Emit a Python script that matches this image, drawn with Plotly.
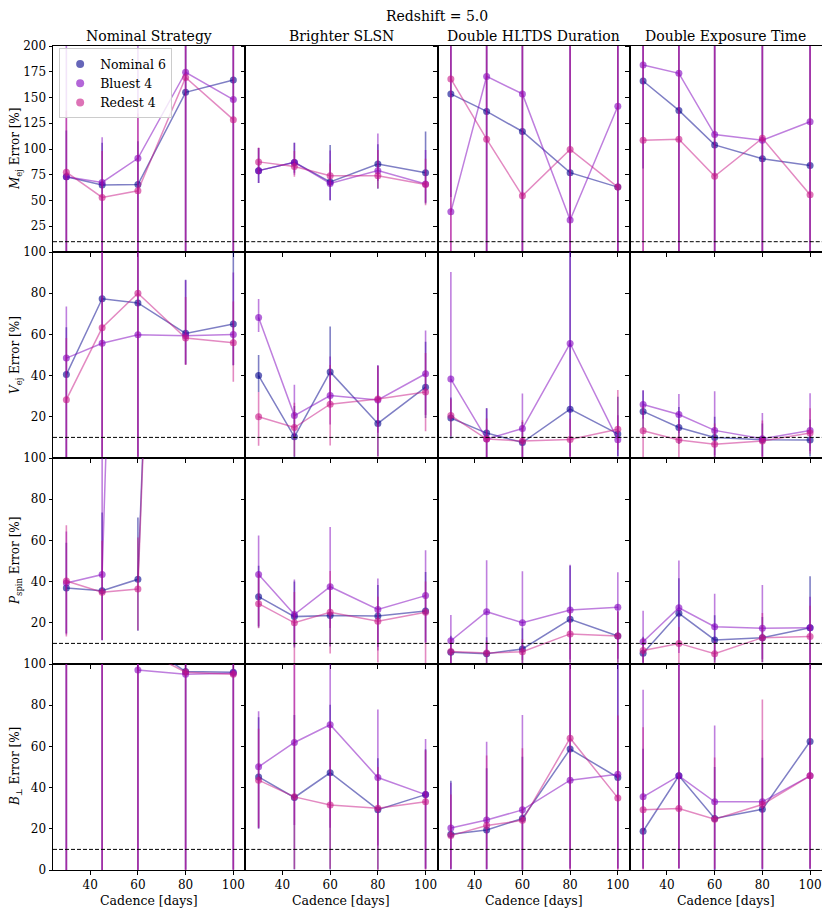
import plotly.graph_objects as go
from plotly.subplots import make_subplots

cadence = [30, 45, 60, 80, 100]
strategies = ["Nominal Strategy", "Brighter SLSN", "Double HLTDS Duration", "Double Exposure Time"]
series_names = ["Nominal 6", "Bluest 4", "Redest 4"]
y_titles = ["<i>M</i><sub>ej</sub> Error [%]", "<i>V</i><sub>ej</sub> Error [%]",
            "<i>P</i><sub>spin</sub> Error [%]", "<i>B</i><sub>⊥</sub> Error [%]"]
x_title = "Cadence [days]"
x_ticks = [40, 60, 80, 100]

# ---- M_ej (rows of lists = strategies) ----
mej_nominal = [[73, 65, 65.5, 155, 167], [79, 87, 68, 85.5, 77], [153.5, 136.5, 117, 77, 63], [166, 137.5, 104, 90.5, 84]]
mej_bluest = [[73, 67.5, 91, 174.5, 148], [79, 87, 66.5, 79, 66], [39, 170.5, 153.5, 31, 141.5], [181.5, 173.5, 114, 108.5, 126.5]]
mej_redest = [[77.5, 53, 59.5, 169.5, 128.5], [87.5, 83, 74, 74, 65.5], [168, 109.5, 54.5, 99.5, 63], [108.5, 109.5, 73.5, 110.5, 55.5]]
mej_nominal_up = [[45, 41, 42, 200, 200], [22, 19, 36, 19, 40], [200, 200, 200, 200, 200], [200, 200, 200, 200, 200]]
mej_nominal_lo = [[80, 70, 70, 160, 170], [12, 10, 18, 24, 30], [100, 136, 117, 77, 63], [85, 137, 104, 90, 84]]
mej_bluest_up = [[200, 44, 200, 200, 200], [22, 19, 32, 36, 33], [200, 200, 200, 200, 200], [200, 200, 200, 200, 200]]
mej_bluest_lo = [[73, 67.5, 91, 174.5, 148], [12, 12, 16, 10, 18], [39, 170, 153, 31, 141], [181, 173, 114, 108, 126]]
mej_redest_up = [[60, 45, 75, 200, 200], [14, 15, 12, 25, 25], [200, 200, 200, 200, 200], [200, 200, 200, 200, 200]]
mej_redest_lo = [[77, 53, 59, 169, 128], [12, 10, 10, 12, 20], [168, 109, 54, 99, 63], [108, 109, 73, 110, 55]]

# ---- V_ej ----
vej_nominal = [[40.5, 77.3, 75.3, 60.5, 65], [40, 10.3, 41.8, 16.8, 34.4], [19.4, 12.1, 7.5, 23.7, 11.7], [22.6, 14.8, 10, 8.8, 8.7]]
vej_bluest = [[48.5, 55.7, 59.8, 59.3, 60], [68.2, 20.6, 30.3, 28.2, 40.9], [38.3, 9.2, 14.3, 55.6, 8.8], [26, 21.1, 13.4, 9.3, 13.4]]
vej_redest = [[28.3, 63.2, 80, 58.2, 56], [20, 14.8, 26.1, 28.6, 32], [20.6, 9.2, 8.3, 9, 14], [13.2, 8.7, 6.7, 8.2, 12.1]]
vej_nominal_up = [[23, 100, 100, 26, 60], [10, 15, 22, 28, 22], [10, 12, 10, 80, 18], [10, 10, 10, 8, 10]]
vej_nominal_lo = [[40, 77, 75, 15, 20], [8, 10, 16, 16, 15], [10, 12, 7, 23, 11], [8, 8, 10, 8, 8]]
vej_bluest_up = [[25, 100, 100, 27, 30], [9, 15, 19, 17, 21], [52, 15, 17, 60, 12], [7, 10, 19, 12.5, 18]]
vej_bluest_lo = [[48, 55, 59, 14, 15], [7, 10, 14, 16, 20], [18, 9, 14, 55, 8], [7, 9, 12, 9, 10]]
vej_redest_up = [[30, 100, 100, 20, 20], [12, 12, 19, 16, 19], [8, 10, 10, 10, 19], [12, 10, 10, 10, 12]]
vej_redest_lo = [[28, 63, 80, 13, 19], [14, 14, 20, 28, 19], [10, 9, 8, 9, 10], [13, 8.7, 6.7, 8, 10]]

# ---- P_spin ----
pspin_nominal = [[36.9, 35.6, 41.1, 650, 700], [32.7, 23, 23.5, 23.3, 25.7], [5.7, 5, 7.3, 21.7, 13.6], [5.2, 24.6, 11.7, 12.8, 17.6]]
pspin_bluest = [[39.3, 43.4, 600, 650, 700], [43.4, 24, 37.5, 26.5, 33.2], [11.3, 25.4, 20, 26.2, 27.5], [10.8, 27.3, 18.1, 17.3, 17.6]]
pspin_redest = [[40.3, 34.8, 36.4, 650, 700], [29.3, 20, 25.1, 20.7, 25.1], [6.1, 5.3, 6, 14.6, 13.6], [6.5, 10, 5, 12.8, 13.3]]
pspin_nominal_up = [[22, 38, 30, 100, 100], [15, 17, 15, 15, 19], [8, 8, 10, 26, 12], [8, 17, 12, 10, 25]]
pspin_nominal_lo = [[22, 24, 25, 100, 100], [15, 15, 15, 15, 15], [6, 5, 7, 21, 13], [5, 15, 11, 12, 17]]
pspin_bluest_up = [[25, 60, 100, 100, 100], [19, 17, 29, 15, 22], [12.5, 25, 25, 22, 17], [15, 23, 16, 21, 15]]
pspin_bluest_lo = [[25, 32, 100, 100, 100], [25, 15, 20, 20, 23], [11, 22, 18, 24, 25], [10, 22, 16, 15, 17]]
pspin_redest_up = [[27, 25, 25, 100, 100], [15, 15, 20, 12, 15], [6, 6, 6, 12, 12], [6, 8, 6, 12, 15]]
pspin_redest_lo = [[27, 23, 20, 100, 100], [12, 20, 20, 20, 25], [6, 5, 6, 14, 13], [6, 10, 5, 12, 13]]

# ---- B_perp ----
bperp_nominal = [[700, 700, 112, 96.3, 96], [45.2, 35.2, 47.2, 29.3, 36.6], [17.3, 19.4, 25, 58.7, 44.9], [18.8, 45.7, 25, 29.5, 62.4]]
bperp_bluest = [[700, 700, 97.1, 95, 95.5], [50.1, 61.9, 70.5, 44.9, 36.6], [20.4, 24.3, 29.2, 43.6, 46.5], [35.5, 45.7, 33.1, 33.1, 45.7]]
bperp_redest = [[700, 700, 108, 96, 95], [43.6, 35.5, 31.6, 30, 33.1], [16.7, 21.6, 24.1, 64, 35], [29.3, 29.8, 24.6, 31.8, 45.7]]
bperp_nominal_up = [[300, 300, 300, 300, 300], [29, 40, 33, 25, 22], [26, 30, 30, 60, 60], [40, 70, 25, 25, 60]]
bperp_nominal_lo = [[700, 700, 112, 96, 96], [25, 35, 47, 29, 36], [17, 19, 25, 58, 44], [18, 45, 25, 29, 62]]
bperp_bluest_up = [[300, 300, 300, 300, 300], [27, 40, 40, 33, 27], [22, 38, 46, 60, 60], [52, 70, 37, 30, 60]]
bperp_bluest_lo = [[700, 700, 97, 95, 95], [30, 40, 50, 33, 36], [20, 24, 29, 43, 46], [35, 45, 33, 33, 45]]
bperp_redest_up = [[300, 300, 300, 300, 300], [25, 70, 40, 20, 25], [20, 34, 35, 60, 40], [40, 70, 30, 51, 60]]
bperp_redest_lo = [[700, 700, 108, 96, 95], [23, 35, 31, 30, 33], [16, 21, 24, 64, 35], [29, 29, 24, 31, 45]]

threshold = 10

rows_data = [
    ([mej_nominal, mej_bluest, mej_redest],
     [(mej_nominal_up, mej_nominal_lo), (mej_bluest_up, mej_bluest_lo), (mej_redest_up, mej_redest_lo)]),
    ([vej_nominal, vej_bluest, vej_redest],
     [(vej_nominal_up, vej_nominal_lo), (vej_bluest_up, vej_bluest_lo), (vej_redest_up, vej_redest_lo)]),
    ([pspin_nominal, pspin_bluest, pspin_redest],
     [(pspin_nominal_up, pspin_nominal_lo), (pspin_bluest_up, pspin_bluest_lo), (pspin_redest_up, pspin_redest_lo)]),
    ([bperp_nominal, bperp_bluest, bperp_redest],
     [(bperp_nominal_up, bperp_nominal_lo), (bperp_bluest_up, bperp_bluest_lo), (bperp_redest_up, bperp_redest_lo)]),
]

base_rgb = [(0, 0, 139), (128, 0, 190), (199, 21, 133)]

def rgba(c, a):
    return f"rgba({c[0]},{c[1]},{c[2]},{a})"

FONT = "DejaVu Serif"

fig = make_subplots(rows=4, cols=4, shared_xaxes=True, shared_yaxes=True,
                    horizontal_spacing=0, vertical_spacing=0,
                    subplot_titles=strategies)

for r, (vals, errs) in enumerate(rows_data):
    for c in range(4):
        for s in range(3):
            up, lo = errs[s]
            fig.add_trace(go.Scatter(
                x=cadence, y=vals[s][c], mode="lines+markers",
                name=series_names[s], showlegend=False,
                line=dict(color=rgba(base_rgb[s], 0.5), width=1.5),
                marker=dict(color=rgba(base_rgb[s], 0.6), size=7),
                error_y=dict(type="data", symmetric=False, array=up[c], arrayminus=lo[c],
                             color=rgba(base_rgb[s], 0.5), thickness=1.6, width=0),
            ), row=r + 1, col=c + 1)
        fig.add_hline(y=threshold, line=dict(color="black", width=1, dash="4px,2px"), row=r + 1, col=c + 1)

# legend entries
for s in range(3):
    fig.add_trace(go.Scatter(x=[None], y=[None], mode="markers", name=series_names[s],
                             marker=dict(color=rgba(base_rgb[s], 0.6), size=8)), row=1, col=1)

for r in range(1, 5):
    for c in range(1, 5):
        fig.update_xaxes(range=[24.4, 105], tickvals=x_ticks, ticks="outside", ticklen=3.5,
                         tickcolor="black", showline=True, mirror=True, linecolor="black",
                         linewidth=1, showgrid=False, zeroline=False, automargin=False,
                         tickfont=dict(family=FONT, size=12, color="black"), row=r, col=c)
        if r == 1:
            yr, yt = [0, 200], [25, 50, 75, 100, 125, 150, 175, 200]
        elif r == 4:
            yr, yt = [0, 100], [0, 20, 40, 60, 80, 100]
        else:
            yr, yt = [0, 100], [20, 40, 60, 80, 100]
        fig.update_yaxes(range=yr, tickvals=yt, ticks="outside", ticklen=3.5,
                         tickcolor="black", showline=True, mirror=True, linecolor="black",
                         linewidth=1, showgrid=False, zeroline=False, automargin=False,
                         tickfont=dict(family=FONT, size=12, color="black"), row=r, col=c)

for ann in fig.layout.annotations:
    ann.font = dict(family=FONT, size=14, color="black")

# y-axis titles as rotated annotations placed beside each row
for r in range(1, 5):
    dom = fig.get_subplot(r, 1).yaxis.domain
    fig.add_annotation(text=y_titles[r - 1], xref="paper", yref="paper",
                       x=0, y=(dom[0] + dom[1]) / 2, xshift=-37, xanchor="center", yanchor="middle",
                       textangle=-90, showarrow=False,
                       font=dict(family=FONT, size=12, color="black"))
# x-axis titles under each bottom panel
for c in range(1, 5):
    dom = fig.get_subplot(4, c).xaxis.domain
    fig.add_annotation(text=x_title, xref="paper", yref="paper",
                       x=(dom[0] + dom[1]) / 2, y=0, yshift=-30, xanchor="center", yanchor="middle",
                       showarrow=False, font=dict(family=FONT, size=12.5, color="black"))

fig.update_layout(
    width=822, height=903,
    margin=dict(l=45, r=8, t=38, b=41),
    plot_bgcolor="white", paper_bgcolor="white",
    font=dict(family=FONT, color="black"),
    title=dict(text="Redshift = 5.0", x=0.522, xanchor="center", y=0.996, yanchor="top",
               font=dict(family=FONT, size=14, color="black")),
    legend=dict(x=0.008, y=0.997, xanchor="left", yanchor="top",
                bgcolor="rgba(255,255,255,0.8)", bordercolor="#cccccc", borderwidth=1,
                font=dict(family=FONT, size=12.5, color="black"), itemwidth=30,
                tracegroupgap=0),
)

fig.write_html("out.html")
